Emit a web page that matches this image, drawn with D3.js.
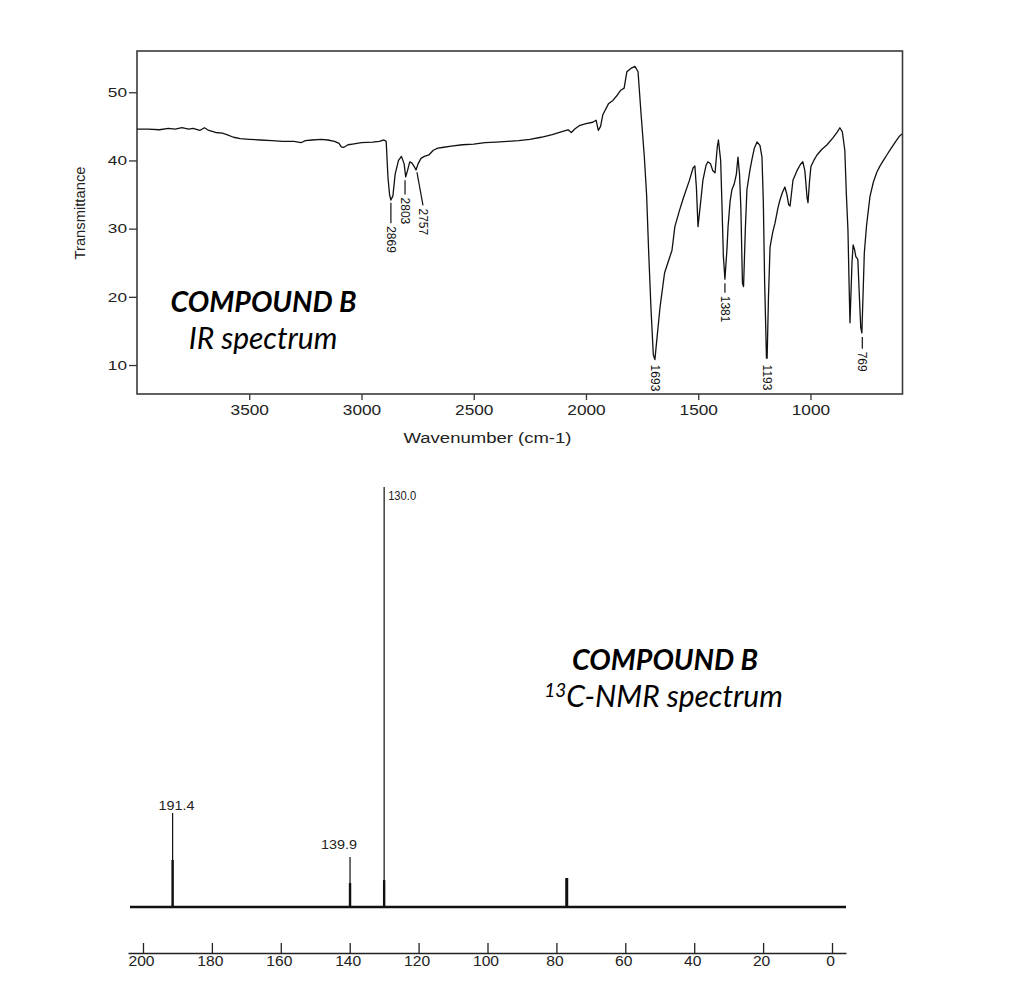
<!DOCTYPE html>
<html>
<head>
<meta charset="utf-8">
<script src="https://cdn.jsdelivr.net/npm/d3@7/dist/d3.min.js"></script>
<style>
  html, body { margin: 0; padding: 0; background: #fff; }
  svg { display: block; }
</style>
</head>
<body>
<svg id="chart" width="1036" height="1004"></svg>
<script>
// ---------------- IR spectrum data ----------------
const irWavenumber = [4000,3950,3900,3860,3830,3800,3770,3750,3720,3700,3680,3650,3620,3600,3570,3540,3500,3450,3400,3350,3300,3270,3250,3220,3180,3150,3120,3100,3090,3080,3060,3040,3000,2950,2920,2900,2890,2882,2875,2869,2860,2850,2835,2822,2810,2803,2795,2785,2775,2765,2757,2748,2735,2720,2700,2680,2660,2640,2600,2550,2500,2450,2400,2350,2300,2250,2200,2150,2100,2080,2065,2050,2030,2000,1970,1955,1945,1935,1925,1900,1880,1860,1845,1830,1818,1800,1782,1768,1755,1740,1730,1720,1710,1700,1693,1685,1670,1650,1630,1617,1604,1585,1568,1540,1523,1515,1508,1501,1492,1479,1465,1457,1445,1435,1425,1415,1410,1400,1394,1388,1381,1372,1367,1358,1350,1340,1330,1323,1316,1310,1303,1298,1290,1283,1270,1261,1250,1238,1225,1216,1210,1204,1196,1193,1187,1180,1168,1158,1145,1136,1125,1114,1105,1097,1091,1085,1078,1060,1045,1034,1025,1015,1011,1004,998,985,971,950,926,900,880,869,858,847,840,833,828,824,820,815,810,804,798,789,782,776,771,766,760,750,735,720,704,690,675,660,640,620,605,592];
const irTransmittance = [44.6,44.6,44.5,44.7,44.6,44.8,44.6,44.7,44.4,44.8,44.4,44.1,44.0,43.8,43.4,43.2,43.1,43.0,42.9,42.8,42.8,42.6,42.9,43.0,43.1,43.0,42.8,42.5,42.0,41.9,42.3,42.4,42.6,42.7,42.8,43.0,42.8,37.5,35.0,34.2,34.8,38.0,40.0,40.6,39.5,37.6,38.5,39.8,39.6,39.1,38.6,39.5,40.3,40.6,40.8,41.5,41.8,41.9,42.1,42.3,42.4,42.6,42.7,42.8,42.9,43.1,43.4,43.8,44.3,44.5,44.1,44.6,45.1,45.4,45.6,45.9,44.4,45.0,46.7,48.3,48.8,49.6,50.3,50.6,53.0,53.5,53.8,53.0,47.0,40.5,35.0,26.0,18.0,11.5,10.8,13.5,18.5,23.5,25.5,26.8,30.3,32.5,34.3,37.0,38.9,39.2,36.0,30.3,33.0,37.1,39.3,39.8,39.5,38.5,38.2,42.0,43.0,40.0,33.2,26.0,22.6,27.0,30.3,34.0,35.7,36.5,38.0,40.5,38.0,33.0,22.0,21.5,30.0,35.7,38.5,40.1,41.8,42.7,42.2,40.5,34.0,22.0,11.0,11.0,20.0,27.3,29.5,30.8,33.0,34.2,35.3,36.1,35.0,33.5,33.3,35.0,37.1,38.5,39.4,39.8,38.5,34.5,33.8,37.0,39.1,40.0,40.8,41.6,42.3,43.3,44.2,44.8,44.2,41.5,35.0,29.8,22.0,16.2,20.0,25.0,27.6,27.0,25.9,25.5,20.0,15.5,14.7,20.0,26.5,30.5,34.7,36.8,38.3,39.2,40.0,40.8,41.8,42.8,43.5,43.9];

const irXTicks = [3500, 3000, 2500, 2000, 1500, 1000];
const irYTicks = [10, 20, 30, 40, 50];
const irXDomain = [4000, 590];
const irYDomain = [5.75, 56.05];

// IR peak annotations
const irPeakLabels   = ["2869", "2803", "2757", "1693", "1381", "1193", "769"];
const irLeaderTopWn  = [2869, 2806, 2753, 1693, 1381, 1193, 769];
const irLeaderTopT   = [33.8, 37.1, 38.3, 10.5, 22.0, 10.5, 14.1];
const irLeaderEndWn  = [2869, 2806, 2726, 1693, 1381, 1193, 769];
const irLeaderEndT   = [30.8, 35.0, 33.4, 10.5, 20.6, 10.5, 12.4];

// ---------------- 13C NMR data ----------------
const nmrXTicks = [200, 180, 160, 140, 120, 100, 80, 60, 40, 20, 0];
const nmrXDomain = [204.35, -4.06];
const nmrPeakShift  = [191.4, 139.9, 130.0, 77.0];
const nmrPeakHeight = [11.2, 5.7, 6.4, 6.9];
const nmrLabelText  = ["191.4", "139.9", "130.0"];
const nmrLabelShift = [191.4, 139.9, 130.0];
const nmrLabelTop   = [22.4, 11.9, 100];

// ---------------- drawing ----------------
const svg = d3.select("#chart");
svg.append("rect").attr("width", 1036).attr("height", 1004).attr("fill", "#fff");

const AX_FONT = "'Liberation Sans', Arial, sans-serif";
const TITLE_FONT = "Lato, 'Open Sans', sans-serif";

// IR panel
const ir = { left: 137, right: 902.5, top: 51, bottom: 394 };
const xI = d3.scaleLinear().domain(irXDomain).range([ir.left, ir.right]);
const yI = d3.scaleLinear().domain(irYDomain).range([ir.bottom, ir.top]);

const gIR = svg.append("g");

// axes
const xAxisI = d3.axisBottom(xI).tickValues(irXTicks).tickSize(6).tickPadding(5).tickFormat(d3.format("d"));
const gxI = gIR.append("g").attr("transform", `translate(0,${ir.bottom})`).call(xAxisI);
gxI.select(".domain").remove();
gxI.selectAll(".tick line").attr("stroke", "#333").attr("stroke-width", 1.3);
gxI.selectAll(".tick text")
  .attr("font-family", AX_FONT).attr("font-size", 14.5).attr("fill", "#222")
  .attr("textLength", d => String(d).length * 9.6).attr("lengthAdjust", "spacingAndGlyphs");

const yAxisI = d3.axisLeft(yI).tickValues(irYTicks).tickSize(8).tickPadding(2).tickFormat(d3.format("d"));
const gyI = gIR.append("g").attr("transform", `translate(${ir.left},0)`).call(yAxisI);
gyI.select(".domain").remove();
gyI.selectAll(".tick line").attr("stroke", "#333").attr("stroke-width", 1.3);
gyI.selectAll(".tick text")
  .attr("font-family", AX_FONT).attr("font-size", 13.5).attr("fill", "#222")
  .attr("textLength", d => String(d).length * 9.6).attr("lengthAdjust", "spacingAndGlyphs");

// frame
gIR.append("rect")
  .attr("x", ir.left).attr("y", ir.top)
  .attr("width", ir.right - ir.left).attr("height", ir.bottom - ir.top)
  .attr("fill", "none").attr("stroke", "#3a3a3a").attr("stroke-width", 1.6);

// spectrum line
const irData = irWavenumber.map((w, i) => [w, irTransmittance[i]]);
gIR.append("path")
  .datum(irData)
  .attr("fill", "none").attr("stroke", "#111").attr("stroke-width", 1.3)
  .attr("stroke-linejoin", "round")
  .attr("d", d3.line().x(d => xI(d[0])).y(d => yI(d[1])));

// peak labels
irPeakLabels.forEach((lab, i) => {
  const x1 = xI(irLeaderTopWn[i]), y1 = yI(irLeaderTopT[i]);
  const x2 = xI(irLeaderEndWn[i]), y2 = yI(irLeaderEndT[i]);
  if (Math.abs(y2 - y1) > 0.5) {
    gIR.append("line").attr("x1", x1).attr("y1", y1).attr("x2", x2).attr("y2", y2)
      .attr("stroke", "#111").attr("stroke-width", 1.2);
  }
  gIR.append("text")
    .attr("transform", `translate(${x2},${y2 + 3}) rotate(90)`)
    .attr("dy", "0.35em")
    .attr("font-family", AX_FONT).attr("font-size", 12).attr("fill", "#111")
    .text(lab);
});

// axis titles
gIR.append("text")
  .attr("transform", `translate(85,213) rotate(-90)`)
  .attr("text-anchor", "middle")
  .attr("font-family", AX_FONT).attr("font-size", 14).attr("fill", "#222")
  .attr("textLength", 93).attr("lengthAdjust", "spacingAndGlyphs")
  .text("Transmittance");

gIR.append("text")
  .attr("x", 487.5).attr("y", 443)
  .attr("text-anchor", "middle")
  .attr("font-family", AX_FONT).attr("font-size", 14).attr("fill", "#222")
  .attr("textLength", 168).attr("lengthAdjust", "spacingAndGlyphs")
  .text("Wavenumber (cm-1)");

// IR title block
gIR.append("text")
  .attr("x", 263.5).attr("y", 312)
  .attr("text-anchor", "middle")
  .attr("font-family", TITLE_FONT).attr("font-weight", 700).attr("font-style", "italic")
  .attr("font-size", 28.5).attr("fill", "#000")
  .text("COMPOUND B");
gIR.append("text")
  .attr("x", 263).attr("y", 349)
  .attr("text-anchor", "middle")
  .attr("font-family", TITLE_FONT).attr("font-style", "italic")
  .attr("font-size", 30).attr("fill", "#000")
  .text("IR spectrum");

// NMR panel
const nm = { left: 128, right: 846, axisY: 953, base: 907, top: 487 };
const xN = d3.scaleLinear().domain(nmrXDomain).range([nm.left, nm.right]);
const yN = d3.scaleLinear().domain([0, 100]).range([nm.base, nm.top]);

const gN = svg.append("g");

const xAxisN = d3.axisBottom(xN).tickValues(nmrXTicks).tickSize(-10).tickSizeOuter(0).tickPadding(3).tickFormat(d3.format("d"));
const gxN = gN.append("g").attr("transform", `translate(0,${nm.axisY})`).call(xAxisN);
gxN.select(".domain").attr("stroke", "#222").attr("stroke-width", 1.3);
gxN.selectAll(".tick line").attr("stroke", "#222").attr("stroke-width", 1.3);
gxN.selectAll(".tick text")
  .attr("font-family", AX_FONT).attr("font-size", 14).attr("fill", "#222")
  .attr("dx", -2)
  .attr("textLength", d => String(d).length * 8.7).attr("lengthAdjust", "spacingAndGlyphs");

// baseline
gN.append("line")
  .attr("x1", xN(nmrXDomain[0]) + 2).attr("x2", xN(nmrXDomain[1]))
  .attr("y1", yN(0)).attr("y2", yN(0))
  .attr("stroke", "#111").attr("stroke-width", 2.6);

// peaks
nmrPeakShift.forEach((s, i) => {
  gN.append("line")
    .attr("x1", xN(s)).attr("x2", xN(s))
    .attr("y1", yN(0)).attr("y2", yN(nmrPeakHeight[i]))
    .attr("stroke", "#111").attr("stroke-width", i === 3 ? 3 : 2.4);
});

// leaders + labels
const labelPlacement = [
  { dx: 4, dy: -3, anchor: "middle", len: 36 },
  { dx: -11, dy: -8, anchor: "middle", len: 36 },
  { dx: 4, dy: 13, anchor: "start", len: 28 }
];
nmrLabelText.forEach((lab, i) => {
  const x = xN(nmrLabelShift[i]);
  const yTop = yN(nmrLabelTop[i]);
  gN.append("line")
    .attr("x1", x).attr("x2", x)
    .attr("y1", yN(0)).attr("y2", yTop)
    .attr("stroke", "#111").attr("stroke-width", 1.2);
  const p = labelPlacement[i];
  gN.append("text")
    .attr("x", x + p.dx).attr("y", yTop + p.dy)
    .attr("text-anchor", p.anchor)
    .attr("font-family", AX_FONT).attr("font-size", 13).attr("fill", "#222")
    .attr("textLength", p.len).attr("lengthAdjust", "spacingAndGlyphs")
    .text(lab);
});

// NMR title block
gN.append("text")
  .attr("x", 665).attr("y", 670)
  .attr("text-anchor", "middle")
  .attr("font-family", TITLE_FONT).attr("font-weight", 700).attr("font-style", "italic")
  .attr("font-size", 28.5).attr("fill", "#000")
  .text("COMPOUND B");
const sub = gN.append("text")
  .attr("x", 663.5).attr("y", 707)
  .attr("text-anchor", "middle")
  .attr("font-family", TITLE_FONT).attr("font-style", "italic")
  .attr("font-size", 30).attr("fill", "#000");
sub.append("tspan").attr("font-size", 19).attr("dy", -10).text("13");
sub.append("tspan").attr("dy", 10).text("C-NMR spectrum");
</script>
</body>
</html>
